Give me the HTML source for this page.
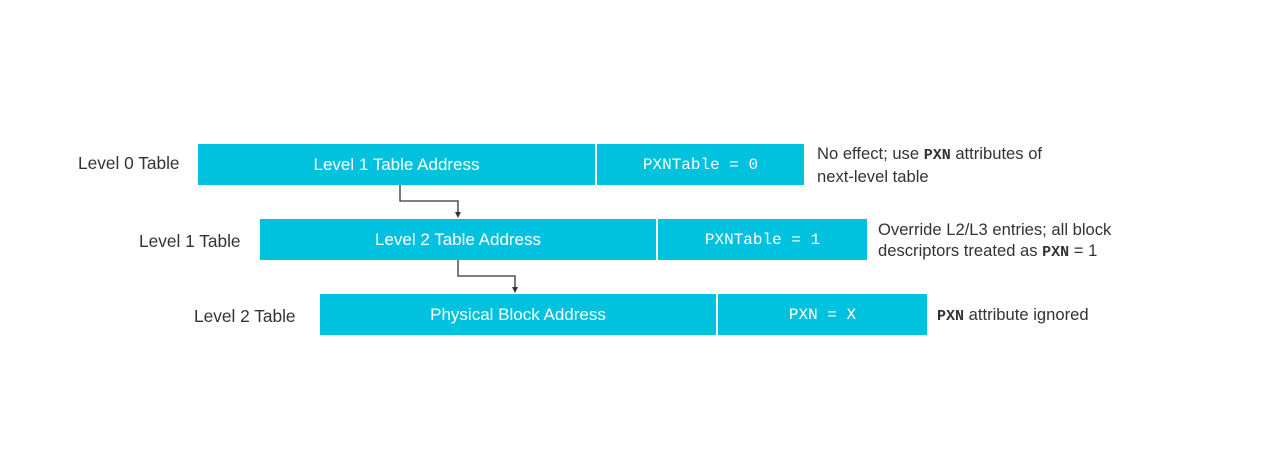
<!DOCTYPE html>
<html><head><style>
body{margin:0;width:1278px;height:464px;background:#fff;position:relative;font-family:"Liberation Sans",sans-serif;overflow:hidden}
.b{position:absolute;background:#00c1de;color:#fff;font-size:17px;display:flex;align-items:center;justify-content:center;height:41px}
.m{font-family:"Liberation Mono",monospace;font-size:16px}
.l{position:absolute;color:#333;font-size:17.3px}
.d{position:absolute;color:#333;font-size:16.6px;line-height:21px}
.d b{font-family:"Liberation Mono",monospace;font-size:15px}
</style></head><body>
<div class="l" style="left:78px;top:153px">Level 0 Table</div>
<div class="l" style="left:139px;top:231px">Level 1 Table</div>
<div class="l" style="left:194px;top:306px">Level 2 Table</div>
<div class="b" style="left:198px;top:144px;width:397px">Level 1 Table Address</div>
<div class="b m" style="left:597px;top:144px;width:207px">PXNTable = 0</div>
<div class="b" style="left:260px;top:219px;width:396px">Level 2 Table Address</div>
<div class="b m" style="left:658px;top:219px;width:209px">PXNTable = 1</div>
<div class="b" style="left:320px;top:294px;width:396px">Physical Block Address</div>
<div class="b m" style="left:718px;top:294px;width:209px">PXN = X</div>
<div class="d" style="left:817px;top:143px">No effect; use <b>PXN</b> attributes of<br>next-level table</div>
<div class="d" style="left:878px;top:219px">Override L2/L3 entries; all block<br>descriptors treated as <b>PXN</b> = 1</div>
<div class="d" style="left:937px;top:304px"><b>PXN</b> attribute ignored</div>
<svg width="1278" height="464" style="position:absolute;left:0;top:0">
<g stroke="#333" stroke-width="1.3" fill="none">
<polyline points="400,185 400,201 458,201 458,213"/>
<polyline points="458,260 458,276 515,276 515,288"/>
</g>
<g fill="#333">
<polygon points="455,212 461,212 458,218"/>
<polygon points="512,287 518,287 515,293"/>
</g>
</svg>
</body></html>
